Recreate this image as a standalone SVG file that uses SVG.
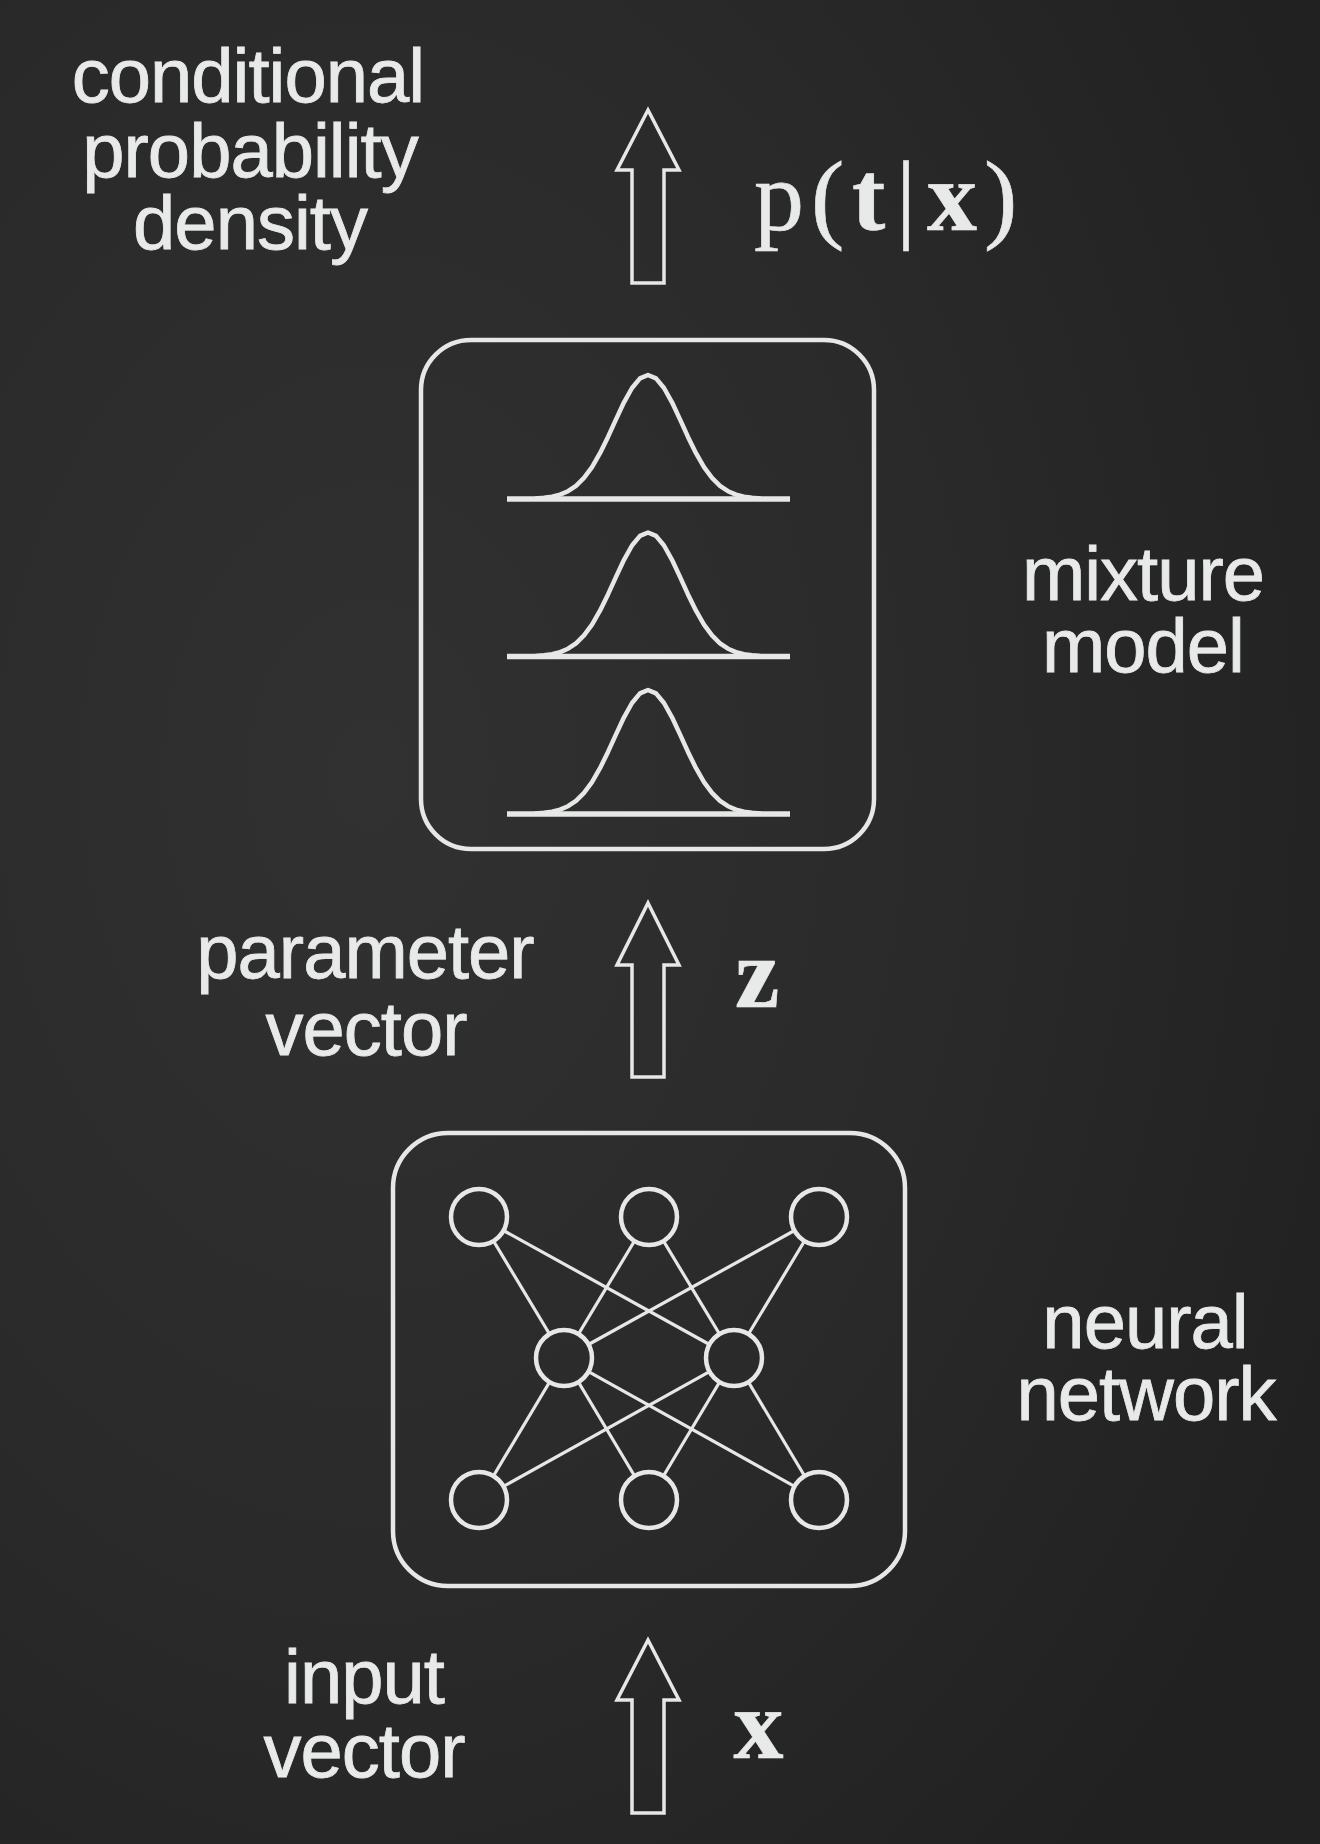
<svg xmlns="http://www.w3.org/2000/svg" xmlns:xlink="http://www.w3.org/1999/xlink" width="1320" height="1844" viewBox="0 0 1320 1844">
  <defs>
    <radialGradient id="bg" cx="0.28" cy="0.42" r="0.8">
      <stop offset="0" stop-color="#313131"/>
      <stop offset="0.55" stop-color="#2a2a2a"/>
      <stop offset="1" stop-color="#212121"/>
    </radialGradient>
    <polyline id="gauss" points="-112,-0.5 -104,-1.2 -96,-2.3 -88,-4.4 -80,-7.8 -72,-13.2 -64,-21.1 -56,-31.9 -48,-45.8 -40,-62.1 -32,-79.6 -24,-96.7 -16,-111 -8,-120.6 0,-124 8,-120.6 16,-111 24,-96.7 32,-79.6 40,-62.1 48,-45.8 56,-31.9 64,-21.1 72,-13.2 80,-7.8 88,-4.4 96,-2.3 104,-1.2 112,-0.5"/>
  </defs>
  <style>
    .ln { fill: none; stroke: #e6e8e6; stroke-width: 4.5; stroke-linejoin: round; stroke-linecap: round; }
    .base { fill: none; stroke: #e6e8e6; stroke-width: 5.5; }
    .edge { fill: none; stroke: #e6e8e6; stroke-width: 3.2; }
    .arrow { fill: none; stroke: #e6e8e6; stroke-width: 3.5; stroke-linejoin: miter; }
    .lbl { fill: #e8eae9; stroke: #e8eae9; stroke-width: 0.8px; font-family: "Liberation Sans", Arial, Helvetica, sans-serif; font-size: 76px; letter-spacing: -1px; text-anchor: middle; }
    .math { fill: #e8eae9; stroke: #e8eae9; stroke-width: 0.6px; font-family: "Liberation Serif", "Times New Roman", serif; font-size: 100px; }
    .b { font-weight: bold; }
  </style>

  <rect x="0" y="0" width="1320" height="1844" fill="url(#bg)"/>

  <g id="connectors">
    <polygon class="arrow" points="648,110 679,170 664,170 664,283 632,283 632,170 617,170"/>
    <polygon class="arrow" points="648,903 679,965 664,965 664,1077 632,1077 632,965 617,965"/>
    <polygon class="arrow" points="648,1640 679,1700 664,1700 664,1813 632,1813 632,1700 617,1700"/>
  </g>

  <g id="mixture-model">
    <rect class="ln" x="421" y="340" width="453" height="509" rx="50" ry="50"/>
    <line class="base" x1="507" y1="499" x2="790" y2="499"/>
    <use xlink:href="#gauss" href="#gauss" class="ln" transform="translate(648,499)"/>
    <line class="base" x1="507" y1="656.5" x2="790" y2="656.5"/>
    <use xlink:href="#gauss" href="#gauss" class="ln" transform="translate(648,656.5)"/>
    <line class="base" x1="507" y1="814" x2="790" y2="814"/>
    <use xlink:href="#gauss" href="#gauss" class="ln" transform="translate(648,814)"/>
  </g>

  <g id="neural-network">
    <rect class="ln" x="393" y="1133" width="512" height="453" rx="55" ry="55"/>
    <g id="nn-edges">
      <line class="edge" x1="493.5" y1="1241" x2="549.5" y2="1334"/>
      <line class="edge" x1="503.5" y1="1230.5" x2="709.5" y2="1344.5"/>
      <line class="edge" x1="634.5" y1="1241" x2="578.5" y2="1334"/>
      <line class="edge" x1="663.5" y1="1241" x2="719.5" y2="1334"/>
      <line class="edge" x1="794.5" y1="1230.5" x2="588.5" y2="1344.5"/>
      <line class="edge" x1="804.5" y1="1241" x2="748.5" y2="1334"/>
      <line class="edge" x1="549.6" y1="1382" x2="493.4" y2="1476"/>
      <line class="edge" x1="578.4" y1="1382" x2="634.6" y2="1476"/>
      <line class="edge" x1="588.5" y1="1371.6" x2="794.5" y2="1486.4"/>
      <line class="edge" x1="709.5" y1="1371.6" x2="503.5" y2="1486.4"/>
      <line class="edge" x1="719.6" y1="1382" x2="663.4" y2="1476"/>
      <line class="edge" x1="748.4" y1="1382" x2="804.6" y2="1476"/>
    </g>
    <circle class="ln" cx="479" cy="1217" r="28"/>
    <circle class="ln" cx="649" cy="1217" r="28"/>
    <circle class="ln" cx="819" cy="1217" r="28"/>
    <circle class="ln" cx="564" cy="1358" r="28"/>
    <circle class="ln" cx="734" cy="1358" r="28"/>
    <circle class="ln" cx="479" cy="1500" r="28"/>
    <circle class="ln" cx="649" cy="1500" r="28"/>
    <circle class="ln" cx="819" cy="1500" r="28"/>
  </g>

  <g id="labels">
    <text class="lbl" x="248" y="102">conditional</text>
    <text class="lbl" x="250" y="177">probability</text>
    <text class="lbl" x="250" y="249">density</text>
    <text class="lbl" x="1143" y="600">mixture</text>
    <text class="lbl" x="1143" y="672">model</text>
    <text class="lbl" x="365" y="978">parameter</text>
    <text class="lbl" x="366" y="1055">vector</text>
    <text class="lbl" x="1145" y="1348">neural</text>
    <text class="lbl" x="1146" y="1420">network</text>
    <text class="lbl" x="364" y="1703">input</text>
    <text class="lbl" x="364" y="1777">vector</text>
  </g>

  <g id="math">
    <text class="math" y="230"><tspan x="754">p</tspan><tspan x="811">(</tspan><tspan x="852" class="b">t</tspan><tspan x="896">|</tspan><tspan x="927" class="b">x</tspan><tspan x="984">)</tspan></text>
    <text class="math b" x="735" y="1007">z</text>
    <text class="math b" x="733.5" y="1758">x</text>
  </g>
</svg>
